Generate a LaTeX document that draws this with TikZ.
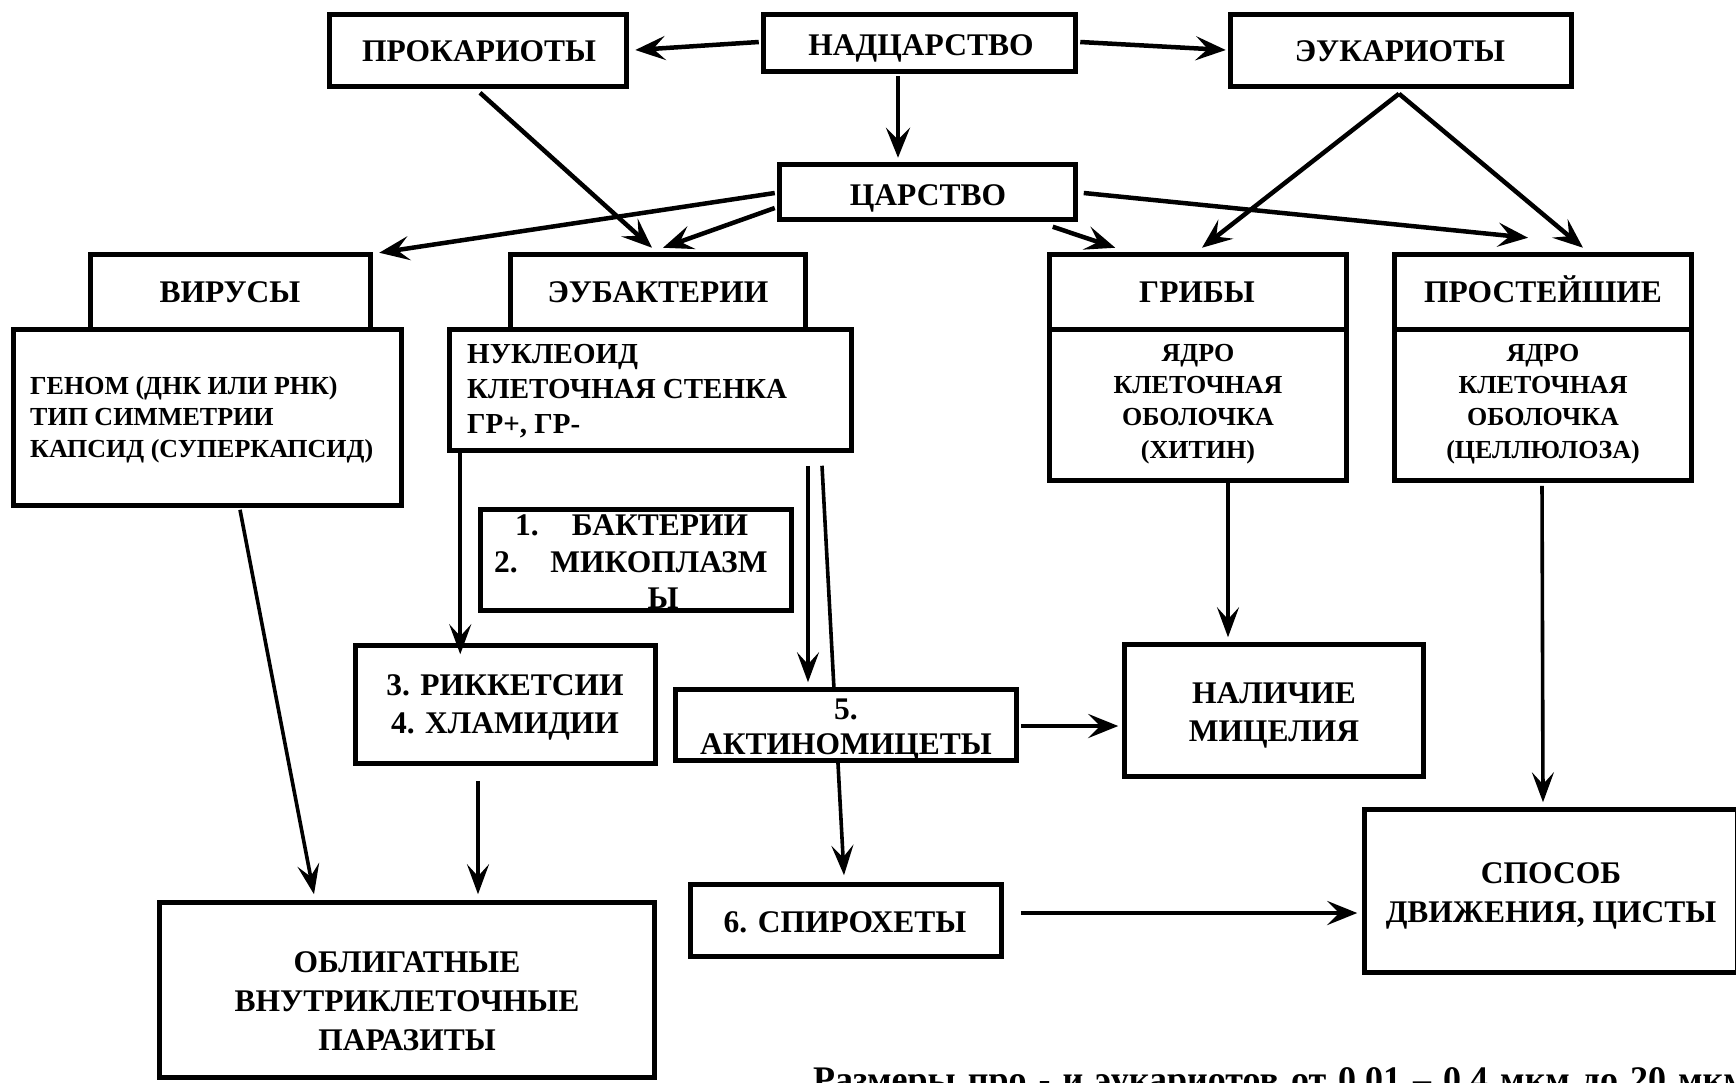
\documentclass[tikz,border=0pt]{standalone}
\usepackage{fontspec}
\setmainfont{Liberation Serif}
\usetikzlibrary{arrows.meta,calc}
\begin{document}
\begin{tikzpicture}[x=1pt,y=-1pt,
  box/.style={draw=black,line width=5.5pt,fill=white,inner sep=0pt,rectangle},
  hdr/.style={box,minimum height=75pt},
  txt/.style={font=\bfseries\fontsize{31.5}{36}\selectfont,align=center,inner sep=0pt},
  ltxt/.style={txt,anchor=base},
  arr/.style={line width=4.5pt,-{Stealth[length=30pt,width=24pt,inset=12pt]}},
  tarr/.style={line width=3.6pt,-{Stealth[length=30pt,width=22pt,inset=12pt]}},
]
\useasboundingbox (0,0) rectangle (1736,1082);
\fill[white] (0,0) rectangle (1736,1082);
\clip (0,0) rectangle (1736,1082);

% boxes
\node[box,minimum width=297pt,minimum height=72pt] (prok) at (478,50.5) {};
\node[box,minimum width=312pt,minimum height=57pt] (nadc) at (919.5,43) {};
\node[box,minimum width=341pt,minimum height=72pt] (euk) at (1401,50.5) {};
\node[box,minimum width=296pt,minimum height=55pt] (carst) at (927.5,192) {};
\node[hdr,minimum width=280pt] (virH) at (230.5,292) {};
\node[box,minimum width=388pt,minimum height=176pt] (virB) at (207.5,417.5) {};
\node[hdr,minimum width=295pt] (eubH) at (658,292) {};
\node[box,minimum width=402pt,minimum height=121pt] (eubB) at (650.5,390) {};
\node[hdr,minimum width=297pt] (gribH) at (1198,292) {};
\node[box,minimum width=297pt,minimum height=151pt] (gribB) at (1198,405) {};
\node[hdr,minimum width=297pt] (protH) at (1543,292) {};
\node[box,minimum width=297pt,minimum height=151pt] (protB) at (1543,405) {};
\node[box,minimum width=311pt,minimum height=101pt] (bakt) at (636,560) {};
\node[box,minimum width=300pt,minimum height=118pt] (rikk) at (505.5,704.5) {};
\node[box,minimum width=311pt,minimum height=72pt] (spir) at (846,920.5) {};

% line passing behind the actinomycetes box
\draw[tarr] ($(eubB.south)+(171.5,12.5)$) -- ($(spir.north)+(-2,-6.5)$);

\node[box,minimum width=341pt,minimum height=71pt] (akt) at (846,725) {};
\node[box,minimum width=299pt,minimum height=132pt] (nal) at (1274,710.5) {};
\node[box,minimum width=373pt,minimum height=163pt] (spos) at (1551,891) {};
\node[box,minimum width=495pt,minimum height=175pt] (obl) at (407,990) {};

% texts
\node[ltxt] (prok-t) at (479,61) {ПРОКАРИОТЫ};
\node[ltxt] (nadc-t) at (921,55) {НАДЦАРСТВО};
\node[ltxt] (euk-t) at (1400,61) {ЭУКАРИОТЫ};
\node[ltxt] (carst-t) at (928,205) {ЦАРСТВО};
\node[ltxt] (virH-t) at (230,302) {ВИРУСЫ};
\node[ltxt] (eubH-t) at (658,302.5) {ЭУБАКТЕРИИ};
\node[ltxt] (gribH-t) at (1197,302.5) {ГРИБЫ};
\node[ltxt] (protH-t) at (1543,302.5) {ПРОСТЕЙШИЕ};
\node[txt,font=\bfseries\fontsize{26}{31.5}\selectfont,align=left,anchor=west] (virB-t) at (30,419.5)
  {ГЕНОМ (ДНК ИЛИ РНК)\\ТИП СИММЕТРИИ\\КАПСИД (СУПЕРКАПСИД)};
\node[txt,font=\bfseries\fontsize{29}{35}\selectfont,align=left,anchor=west] (eubB-t) at (467,391)
  {НУКЛЕОИД\\КЛЕТОЧНАЯ СТЕНКА\\ГР+, ГР-};
\node[txt,font=\bfseries\fontsize{26}{32.3}\selectfont] (gribB-t) at (1198,404)
  {ЯДРО\\КЛЕТОЧНАЯ\\ОБОЛОЧКА\\(ХИТИН)};
\node[txt,font=\bfseries\fontsize{26}{32.3}\selectfont] (protB-t) at (1543,404)
  {ЯДРО\\КЛЕТОЧНАЯ\\ОБОЛОЧКА\\(ЦЕЛЛЮЛОЗА)};
\node[txt,anchor=base west] (bakt-n1) at (515,535) {1.};
\node[txt,anchor=base] (bakt-t1) at (660,535) {БАКТЕРИИ};
\node[txt,anchor=base west] (bakt-n2) at (494,572) {2.};
\node[txt,anchor=base] (bakt-t2) at (659,572) {МИКОПЛАЗМ};
\node[txt,anchor=base] (bakt-t3) at (663,608) {Ы};
\node[txt,font=\bfseries\fontsize{31.5}{38}\selectfont] (rikk-t) at (505,707) {3. РИККЕТСИИ\\4. ХЛАМИДИИ};
\node[txt,font=\bfseries\fontsize{31.5}{35}\selectfont] (akt-t) at (846,730) {5.\\АКТИНОМИЦЕТЫ};
\node[txt,font=\bfseries\fontsize{31.5}{38}\selectfont] (nal-t) at (1274,715) {НАЛИЧИЕ\\МИЦЕЛИЯ};
\node[ltxt] (spir-t) at (845,932) {6. СПИРОХЕТЫ};
\node[txt,font=\bfseries\fontsize{31.5}{38.5}\selectfont] (spos-t) at (1551,896) {СПОСОБ\\ДВИЖЕНИЯ, ЦИСТЫ};
\node[txt,font=\bfseries\fontsize{31.5}{39}\selectfont] (obl-t) at (407,1001) {ОБЛИГАТНЫЕ\\ВНУТРИКЛЕТОЧНЫЕ\\ПАРАЗИТЫ};
\node[txt,font=\bfseries\fontsize{36}{40}\selectfont,anchor=base west] (note) at (813,1091)
  {\spaceskip=12pt Размеры про - и эукариотов от 0,01 – 0,4 мкм до 20 мкм};

% connectors
\draw[arr] ($(nadc.west)+(-2,-1)$) -- ($(prok.east)+(6,-0.5)$);
\draw[arr] ($(nadc.east)+(2,-1)$) -- ($(euk.west)+(-2,-0.5)$);
\draw[arr] ($(nadc.south)+(-21.5,2)$) -- ($(carst.north)+(-29.5,-4)$);
\draw[arr] ($(carst.west)+(-2,1)$) -- ($(virH.north east)+(6,1)$);
\draw[arr] ($(carst.west)+(-2,16)$) -- ($(eubH.north)+(5,-4)$);
\draw[arr] ($(prok.south)+(2,3.5)$) -- ($(eubH.north)+(-6,-4)$);
\draw[arr] ($(carst.south east)+(-25.5,4.5)$) -- ($(gribH.north west)+(68.5,-4)$);
\draw[arr] ($(carst.east)+(5.5,1)$) -- ($(protH.north)+(-15,-14)$);
\draw[arr] ($(euk.south)+(-2,4.5)$) -- ($(gribH.north)+(4,-4)$);
\draw[arr] ($(euk.south)+(-2,4.5)$) -- ($(protH.north)+(40,-4)$);
\draw[tarr] ($(virB.south)+(32.5,1.5)$) -- ($(obl.north)+(-93,-5.5)$);
\draw[tarr] ($(eubB.south west)+(13.5,-2.5)$) -- ($(rikk.north west)+(107.5,11.5)$);
\draw[tarr] ($(rikk.south)+(-27.5,14.5)$) -- ($(obl.north)+(71,-5.5)$);
\draw[tarr] ($(eubB.south)+(157.5,12.5)$) -- ($(akt.north)+(-38,-4.5)$);
\draw[arr] ($(akt.east)+(1.5,1)$) -- ($(nal.west)+(-3.5,15.5)$);
\draw[tarr] ($(gribB.south)+(30,-2.5)$) -- ($(nal.north)+(-46,-4.5)$);
\draw[tarr] ($(protB.south)+(-1,2.5)$) -- ($(spos.north)+(-8,-4.5)$);
\draw[arr] ($(spir.east)+(16.5,-7.5)$) -- ($(spos.west)+(-4.5,22)$);
\end{tikzpicture}
\end{document}
